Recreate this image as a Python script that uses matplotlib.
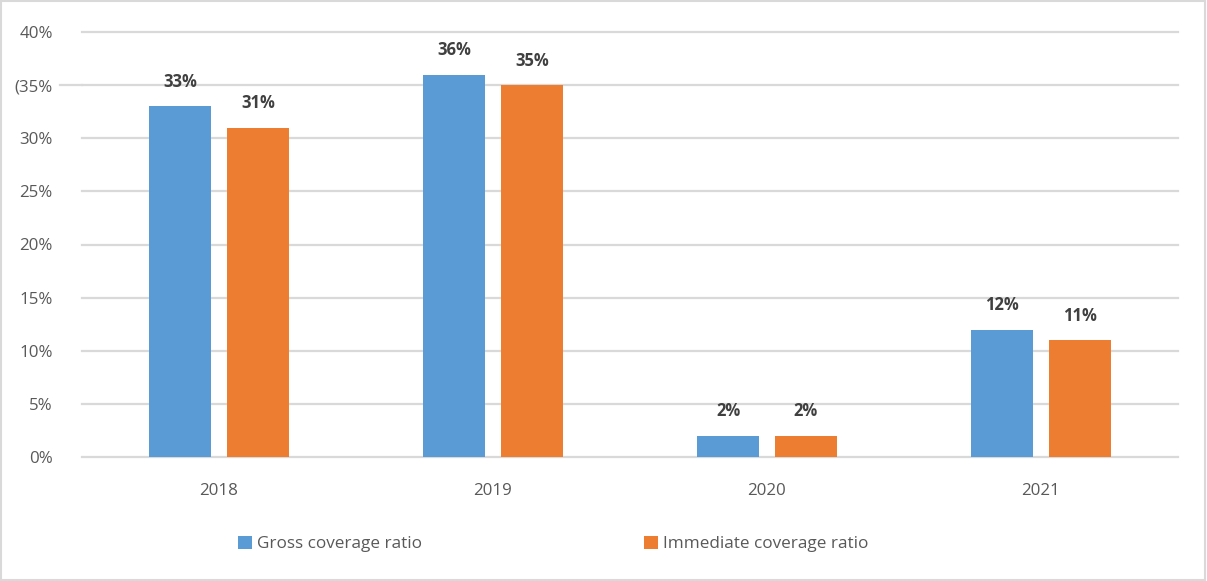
import matplotlib.pyplot as plt
import numpy as np

# coverage ratios by year, in percent
years = ["2018", "2019", "2020", "2021"]
gross_ratio = [33, 36, 2, 12]
immediate_ratio = [31, 35, 2, 11]

ytick_values = [0, 5, 10, 15, 20, 25, 30, 35, 40]
ytick_labels = ["0%", "5%", "10%", "15%", "20%", "25%", "30%", "(35%", "40%"]

BLUE = "#5b9bd5"
ORANGE = "#ed7d31"
GRID = "#d9d9d9"
TEXT = "#595959"
LABEL = "#404040"

plt.rcParams["font.family"] = ["Open Sans", "DejaVu Sans"]

fig = plt.figure(figsize=(12.07, 5.81), dpi=100)
ax = fig.add_axes([82 / 1207, 124 / 581, 1096 / 1207, 425 / 581])

x = np.arange(len(years))
w = 0.226
off = 0.142
bars_g = ax.bar(x - off, gross_ratio, w, color=BLUE, label="Gross coverage ratio", zorder=3)
bars_i = ax.bar(x + off, immediate_ratio, w, color=ORANGE, label="Immediate coverage ratio", zorder=3)

for bars, vals in ((bars_g, gross_ratio), (bars_i, immediate_ratio)):
    for b, v in zip(bars, vals):
        ax.annotate(f"{v}%", (b.get_x() + b.get_width() / 2, v),
                    xytext=(0, 11), textcoords="offset points",
                    ha="center", va="bottom", fontsize=12, fontweight="bold",
                    color=LABEL)

ax.set_xlim(-0.5, len(years) - 0.5)
ax.set_ylim(0, 40)
ax.set_yticks(ytick_values)
ax.set_yticklabels(ytick_labels)
ax.set_xticks(x)
ax.set_xticklabels(years)
ax.tick_params(axis="both", length=0, colors=TEXT, labelsize=12.2)
ax.tick_params(axis="y", pad=21)
ax.tick_params(axis="x", pad=19)

# horizontal gridlines; the 35% one runs a little further left
for v in ytick_values:
    ax.axhline(v, color=GRID, lw=1.6, zorder=1, clip_on=False)
ax.plot([-0.58, -0.5], [35, 35], color=GRID, lw=1.6, clip_on=False, zorder=1)

for s in ax.spines.values():
    s.set_visible(False)

fig.legend(handles=[bars_g, bars_i], loc="center", bbox_to_anchor=(553 / 1207, 1 - 544 / 581),
           ncol=2, frameon=False, fontsize=12.3, labelcolor=TEXT,
           handlelength=0.8, handleheight=0.8, handletextpad=0.3, columnspacing=13.0)

# thin light border round the whole figure
fig.patches.append(plt.Rectangle((0.001, 0.002), 0.997, 0.996, transform=fig.transFigure,
                                 fill=False, edgecolor=GRID, lw=1.5))

fig.savefig("out.png", dpi=100)
